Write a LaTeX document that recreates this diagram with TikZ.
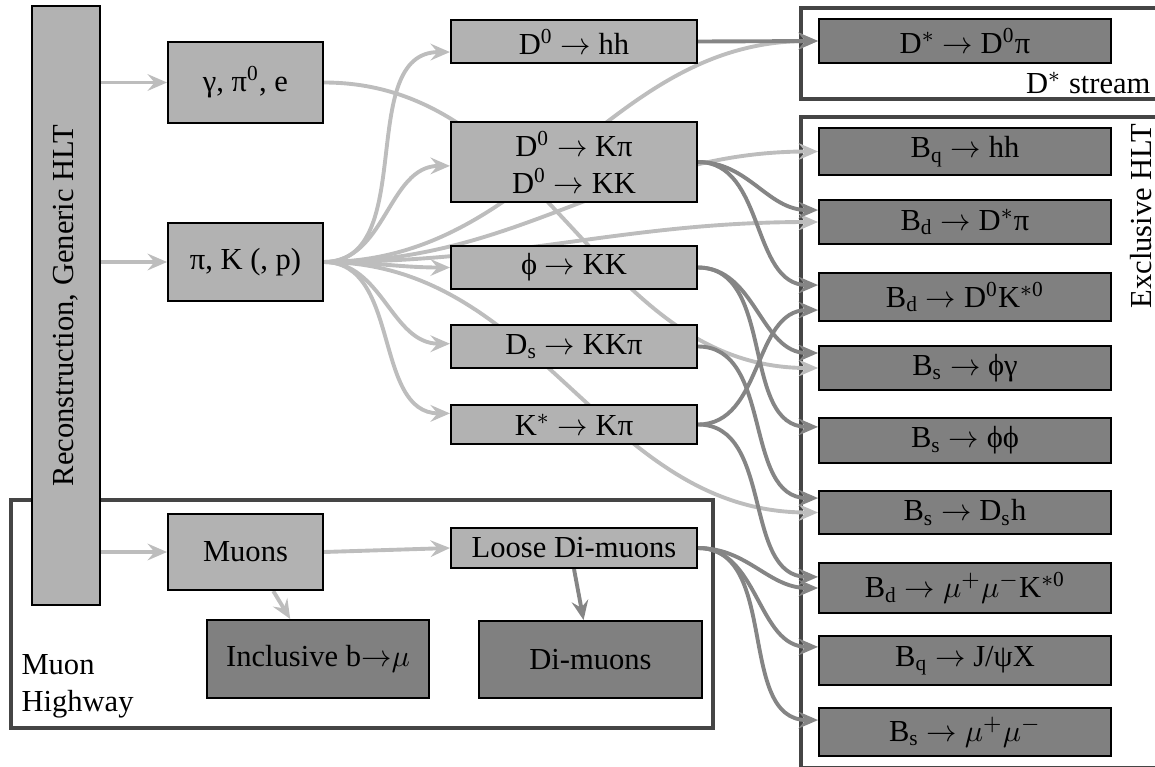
\documentclass[tikz,border=0pt]{standalone}
\usepackage{fontspec}
\setmainfont{Liberation Serif}
\usepackage{graphicx}
\usetikzlibrary{arrows.meta,backgrounds}
\definecolor{boxlight}{gray}{0.70}
\definecolor{boxdark}{gray}{0.50}
\definecolor{wirelight}{gray}{0.74}
\definecolor{wiredark}{gray}{0.52}
\definecolor{framegray}{gray}{0.27}
\begin{document}
\begin{tikzpicture}[x=0.36pt, y=-0.36pt,
        font=\fontsize{11}{13.3}\selectfont,
        box/.style={draw=black, line width=0.7pt, inner sep=1pt, align=center},
        lightbox/.style={box, fill=boxlight},
        darkbox/.style={box, fill=boxdark, minimum width=105.1pt},
        midbox/.style={lightbox, minimum width=88.6pt, minimum height=15.5pt},
        lightwire/.style={draw=wirelight, line width=1.4pt, -{Stealth[length=7pt, width=6pt, inset=2.5pt]}},
        darkwire/.style={draw=wiredark, line width=1.4pt, -{Stealth[length=7pt, width=6pt, inset=2.5pt]}},
        stream/.style={draw=framegray, line width=1.6pt}]
           \useasboundingbox (0,0) rectangle (1155,767);

           \node[lightbox, minimum width=24.5pt, minimum height=215.6pt] (reco) at (66,305.5) {\rotatebox{90}{Reconstruction, Generic HLT}};
           \node[lightbox, minimum width=55.8pt, minimum height=29.2pt] (gam) at (245.5,82.5) {γ, π\textsuperscript{0}, e};
           \node[lightbox, minimum width=55.8pt, minimum height=28.1pt] (pik) at (245.5,262) {π, K (, p)};
           \node[lightbox, minimum width=55.8pt, minimum height=27.4pt] (muons) at (245.5,552) {Muons};
           \node[darkbox, minimum width=79.9pt, minimum height=28.1pt] (incl) at (318,659) {Inclusive b$\rightarrow$$\mu$};

           \node[midbox] (dhh) at (574,41.5) {D\textsuperscript{0} $\rightarrow$ hh};
           \node[midbox, minimum height=28.8pt] (dkpi) at (574,162) {D\textsuperscript{0} $\rightarrow$ Kπ\\D\textsuperscript{0} $\rightarrow$ KK};
           \node[midbox] (phi) at (574,267.5) {ϕ $\rightarrow$ KK};
           \node[midbox] (ds) at (574,346.5) {D\textsubscript{s} $\rightarrow$ KKπ};
           \node[midbox, minimum height=14pt] (kst) at (574,424.5) {K$^*$ $\rightarrow$ Kπ};
           \node[midbox, minimum height=14.4pt] (loose) at (574,548) {Loose Di-muons};
           \node[darkbox, minimum width=80.3pt, minimum height=27.7pt] (dimu) at (590.5,659.5) {Di-muons};

           \node[darkbox, minimum height=15.8pt] (dst) at (965,41) {D$^*$ $\rightarrow$ D\textsuperscript{0}π};
           \node[darkbox, minimum height=16.9pt] (bhh) at (965,151.5) {B\textsubscript{q} $\rightarrow$ hh};
           \node[darkbox, minimum height=15.8pt] (bdst) at (965,222) {B\textsubscript{d} $\rightarrow$ D$^*$π};
           \node[darkbox, minimum height=17.3pt] (bdk) at (965,297) {B\textsubscript{d} $\rightarrow$ D\textsuperscript{0}K\textsuperscript{$*$0}};
           \node[darkbox, minimum height=15.8pt] (bsphig) at (965,368) {B\textsubscript{s} $\rightarrow$ ϕγ};
           \node[darkbox, minimum height=16.2pt] (bsphiphi) at (965,440.5) {B\textsubscript{s} $\rightarrow$ ϕϕ};
           \node[darkbox, minimum height=15.5pt] (bsdsh) at (965,512.5) {B\textsubscript{s} $\rightarrow$ D\textsubscript{s}h};
           \node[darkbox, minimum height=18pt] (bdmumu) at (965,588) {B\textsubscript{d} $\rightarrow$ $\mu^+\mu^-$K\textsuperscript{$*$0}};
           \node[darkbox, minimum height=17.6pt] (bjpsi) at (965,660.5) {B\textsubscript{q} $\rightarrow$ J/ψX};
           \node[darkbox, minimum height=17.3pt] (bsmumu) at (965,732) {B\textsubscript{s} $\rightarrow$ $\mu^+\mu^-$};

           \node[anchor=east, inner sep=0pt] (dstlabel) at (1151,83) {D$^*$ stream};
           \node[rotate=90, inner sep=0pt] (exclabel) at (1141,216) {Exclusive HLT};
           \node[anchor=west, align=left, inner sep=0pt] (mhlabel) at (21,686) {Muon\\Highway};

           \begin{scope}[on background layer]
           \draw[stream] (801,8) rectangle (1170,99);
           \draw[stream] (801,117) rectangle (1170,768);
           \draw[stream] (11,500) rectangle (713,728);

           \draw[lightwire] (reco.east |- gam.west) -- (gam.west);
           \draw[lightwire] (reco.east |- pik.west) -- (pik.west);
           \draw[lightwire] (reco.east |- muons.west) -- (muons.west);
           \draw[lightwire] (gam.east) to[out=0, in=180] (bsphig.west);
           \draw[lightwire] (pik.east) to[out=0, in=180] ([yshift=-3.8pt]dhh.west);
           \draw[lightwire] (pik.east) to[out=0, in=180] ([yshift=-1.4pt]dkpi.west);
           \draw[lightwire] (pik.east) to[out=0, in=180] (phi.west);
           \draw[lightwire] (pik.east) to[out=0, in=180] ([yshift=1pt]ds.west);
           \draw[lightwire] (pik.east) to[out=0, in=180] ([yshift=4pt]kst.west);
           \draw[lightwire] (pik.east) to[out=0, in=180] (dst.west);
           \draw[lightwire] (pik.east) to[out=0, in=180] (bhh.west);
           \draw[lightwire] (pik.east) to[out=0, in=180] (bdst.west);
           \draw[lightwire] (pik.east) to[out=0, in=180] (bsdsh.west);
           \draw[lightwire] (muons.east) -- (loose.west);
           \draw[lightwire] ([xshift=10pt]muons.south) -- ([xshift=-10pt]incl.north);

           \draw[darkwire] (dhh.east) -- (dst.west);
           \draw[darkwire] (dkpi.east) to[out=0, in=180] ([yshift=4.3pt]bdst.west);
           \draw[darkwire] (dkpi.east) to[out=0, in=180] ([yshift=4.3pt]bdk.west);
           \draw[darkwire] (phi.east) to[out=0, in=180] ([yshift=5.4pt]bsphig.west);
           \draw[darkwire] (phi.east) to[out=0, in=180] ([yshift=4.9pt]bsphiphi.west);
           \draw[darkwire] (ds.east) to[out=0, in=180] ([yshift=5.2pt]bsdsh.west);
           \draw[darkwire] (kst.east) to[out=0, in=180] ([yshift=-4.7pt]bdk.west);
           \draw[darkwire] (kst.east) to[out=0, in=180] ([yshift=4pt]bdmumu.west);
           \draw[darkwire] (loose.east) to[out=0, in=180] (bdmumu.west);
           \draw[darkwire] (loose.east) to[out=0, in=180] ([yshift=4.9pt]bjpsi.west);
           \draw[darkwire] (loose.east) to[out=0, in=180] ([yshift=4.3pt]bsmumu.west);
           \draw[darkwire] (loose.south) -- ([xshift=-2.5pt]dimu.north);
           \end{scope}
       \end{tikzpicture}
\end{document}
